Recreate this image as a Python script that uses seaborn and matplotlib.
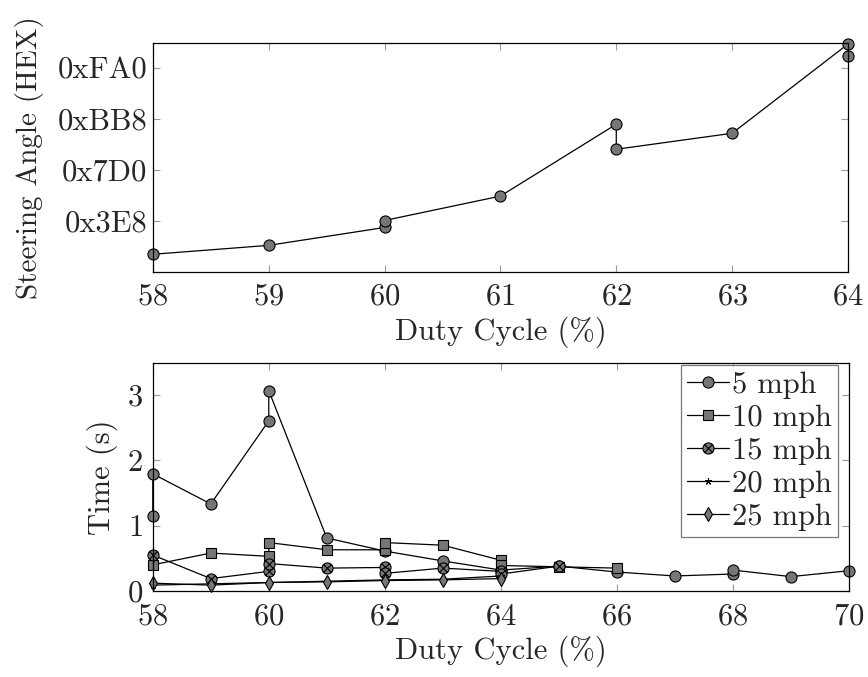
import numpy as np
import matplotlib
matplotlib.use("Agg")
import matplotlib.pyplot as plt
from matplotlib.path import Path
import seaborn as sns

# Steering angle versus PWM duty cycle
steer_duty = [58, 59, 60, 60, 61, 62, 62, 63, 64, 64]
steer_angle = [350, 525, 875, 1012, 1490, 2898, 2408, 2721, 4470, 4228]
steer_ticks = [1000, 2000, 3000, 4000]
steer_tick_labels = ["0x3E8", "0x7D0", "0xBB8", "0xFA0"]

# Response time versus duty cycle for each vehicle speed
duty_5 = [58, 58, 59, 60, 60, 61, 62, 63, 64, 65, 66, 67, 68, 68, 69, 70]
time_5 = [1.15, 1.79, 1.33, 2.60, 3.06, 0.81, 0.61, 0.46, 0.32, 0.38, 0.29, 0.23, 0.26, 0.32, 0.22, 0.31]
duty_10 = [58, 59, 60, 60, 61, 62, 62, 63, 64, 64, 65, 66]
time_10 = [0.40, 0.58, 0.53, 0.74, 0.63, 0.63, 0.74, 0.70, 0.47, 0.39, 0.37, 0.35]
duty_15 = [58, 59, 60, 60, 61, 62, 62, 63, 64, 64, 65]
time_15 = [0.55, 0.19, 0.30, 0.42, 0.35, 0.36, 0.27, 0.35, 0.30, 0.26, 0.38]
duty_20 = [58, 59, 60, 61, 62, 63, 64]
time_20 = [0.09, 0.11, 0.13, 0.15, 0.17, 0.18, 0.23]
duty_25 = [58, 59, 60, 61, 62, 63, 64]
time_25 = [0.12, 0.09, 0.13, 0.14, 0.16, 0.17, 0.19]
speed_labels = ["5 mph", "10 mph", "15 mph", "20 mph", "25 mph"]

time_ticks = [0, 1, 2, 3]
time_xticks = [58, 60, 62, 64, 66, 68, 70]

sns.set_theme(style="ticks")
plt.rcParams["font.family"] = ["cmr10", "DejaVu Serif"]
plt.rcParams["mathtext.fontset"] = "cm"
plt.rcParams["axes.unicode_minus"] = False
plt.rcParams["axes.formatter.use_mathtext"] = True

FS = 22
GRAY = "#767676"

# circle with a cross, used for the 15 mph series
circ = Path.unit_circle()
d = 0.7071
otimes = Path(list(circ.vertices) + [(-d, -d), (d, d), (-d, d), (d, -d)],
              list(circ.codes) + [Path.MOVETO, Path.LINETO, Path.MOVETO, Path.LINETO])

fig = plt.figure(figsize=(8.68, 6.77), dpi=100)
ax1 = fig.add_axes([0.176, 0.598, 0.801, 0.3385])
ax2 = fig.add_axes([0.176, 0.127, 0.802, 0.3365])

line_kw = dict(color="black", linewidth=0.9, markeredgecolor="black",
               markeredgewidth=0.8, markerfacecolor=GRAY, clip_on=False,
               sort=False, estimator=None)

sns.lineplot(x=steer_duty, y=steer_angle, ax=ax1, marker="o", markersize=8, **line_kw)

series = [
    (duty_5, time_5, "o", 8),
    (duty_10, time_10, "s", 7.5),
    (duty_15, time_15, otimes, 8),
    (duty_20, time_20, (5, 2, 0), 5),
    (duty_25, time_25, "d", 7),
]
for (xs, ys, mk, ms), lab in zip(series, speed_labels):
    sns.lineplot(x=xs, y=ys, ax=ax2, marker=mk, markersize=ms, label=lab, **line_kw)

for ax in (ax1, ax2):
    for s in ax.spines.values():
        s.set_visible(True)
        s.set_color("black")
        s.set_linewidth(0.9)
    ax.tick_params(direction="in", length=5, width=0.8, color="#9a9a9a",
                   top=True, right=True, labelsize=FS)
    ax.set_facecolor("white")
    ax.grid(False)

ax1.tick_params(axis="x", pad=8)
ax1.tick_params(axis="y", pad=4)
ax2.tick_params(axis="x", pad=9)
ax2.tick_params(axis="y", pad=7)

ax1.set_xlim(58, 64)
ax1.set_ylim(0, 4490)
ax1.set_xticks(range(58, 65))
ax1.set_yticks(steer_ticks)
ax1.set_yticklabels(steer_tick_labels)
ax1.set_xlabel("Duty Cycle (%)", fontsize=FS, labelpad=4)
ax1.set_ylabel("Steering Angle (HEX)", fontsize=21)
ax1.yaxis.set_label_coords(-0.156, 0.5)

ax2.set_xlim(58, 70)
ax2.set_ylim(0, 3.48)
ax2.set_xticks(time_xticks)
ax2.set_yticks(time_ticks)
ax2.set_xlabel("Duty Cycle (%)", fontsize=FS, labelpad=3)
ax2.set_ylabel("Time (s)", fontsize=FS)
ax2.yaxis.set_label_coords(-0.05, 0.5)

leg = ax2.legend(loc="upper right", bbox_to_anchor=(0.985, 0.99), borderaxespad=0,
                 fontsize=FS, frameon=True, fancybox=False,
                 handlelength=1.4, handletextpad=0.1,
                 labelspacing=0.18, borderpad=0.2)
leg.get_frame().set_edgecolor("#555555")
leg.get_frame().set_linewidth(0.9)

fig.savefig("out.png", dpi=100, facecolor="white")
